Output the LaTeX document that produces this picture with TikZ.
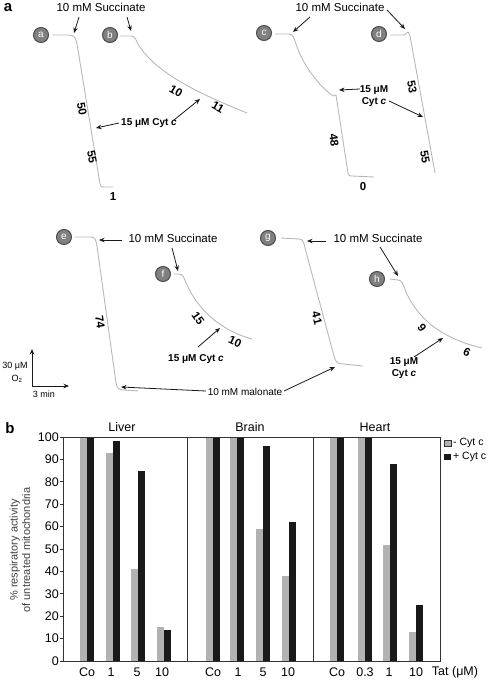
\documentclass[tikz,border=0pt]{standalone}
\usepackage{fontspec}
\setmainfont{Liberation Sans}
\usetikzlibrary{arrows.meta}
\begin{document}
\begin{tikzpicture}[x=1pt,y=-1pt,
  trace/.style={draw=black!28, line width=0.9pt, line join=round},
  arr/.style={-{Stealth[length=5.5pt,width=4.5pt]}, line width=0.8pt, draw=black!90},
  circ/.style={circle, fill=black!50, draw=black!70, line width=1pt, minimum size=15pt, inner sep=0pt, text=white, font=\fontsize{10}{10}\selectfont},
  lab/.style={font=\fontsize{11.5}{13}\selectfont, inner sep=0pt},
  num/.style={font=\bfseries\fontsize{11.5}{13}\selectfont, inner sep=0pt},
  cyt/.style={font=\bfseries\fontsize{10}{11.5}\selectfont, align=center, inner sep=0pt},
  panel/.style={font=\bfseries\fontsize{15}{15}\selectfont, inner sep=0pt},
  ctext/.style={font=\fontsize{12.5}{14}\selectfont, inner sep=0pt},
  gbar/.style={fill=black!30},
  bbar/.style={fill=black!90}
]
\useasboundingbox (0,0) rectangle (489,680);

% ---------- panel a ----------
\node[panel] (pa) at (8,8) {a};

% traces
\node[circ] (ca) at (41,35) {a};
\draw[trace] (52,35) -- (69,35) .. controls (74,35) and (76,38) .. (77,44) -- (100,184) .. controls (101,187) .. (104,187) -- (113,187);
\node[circ] (cb) at (110,35) {b};
\draw[trace] (120,36) -- (131,36) .. controls (135,36) and (136,40) .. (138,44) .. controls (155,72) and (195,92) .. (247,113);
\node[circ] (cc) at (264,33) {c};
\draw[trace] (275,34) -- (289,34) .. controls (293,34) and (294,38) .. (296,44) .. controls (303,65) and (318,85) .. (333,96) -- (336,95) -- (348,173) .. controls (349,176) .. (352,176) -- (374,177);
\node[circ] (cd) at (379,34) {d};
\draw[trace] (390,35) -- (404,35) -- (408,32) -- (410,36) -- (435,173);
\node[circ] (ce) at (64,237) {e};
\draw[trace] (75,237) -- (91,237) .. controls (95,237) and (96,240) .. (97,246) -- (116,383) .. controls (117,388) and (119,390) .. (124,390) -- (138,391);
\node[circ] (cf) at (163,274) {f};
\draw[trace] (174,274) -- (179,274) .. controls (183,274) and (184,278) .. (186,283) .. controls (198,310) and (220,330) .. (252,339);
\node[circ] (cg) at (268,238) {g};
\draw[trace] (281,238) -- (299,239) .. controls (303,239) and (304,243) .. (305,248) -- (334,356) .. controls (335,361) and (337,364) .. (343,364) -- (363,366);
\node[circ] (ch) at (377,279) {h};
\draw[trace] (390,279) -- (398,280) .. controls (402,280) and (403,284) .. (406,292) .. controls (418,318) and (440,338) .. (482,348);

% rate numbers
\node[num, rotate=-80] (n50) at (82,109) {50};
\node[num, rotate=-80] (n55a) at (92,157) {55};
\node[num] (n1) at (113,197) {1};
\node[num, rotate=-30] (n10b) at (176,91) {10};
\node[num, rotate=-30] (n11) at (218,107) {11};
\node[num, rotate=-83] (n48) at (334,140) {48};
\node[num] (n0) at (363,187) {0};
\node[num, rotate=-80] (n53) at (412,87) {53};
\node[num, rotate=-80] (n55d) at (425,157) {55};
\node[num, rotate=-81] (n74) at (100,322) {74};
\node[num, rotate=-55] (n15f) at (198,318) {15};
\node[num, rotate=-25] (n10f) at (235,342) {10};
\node[num, rotate=-75] (n41) at (317,318) {41};
\node[num, rotate=-55] (n9) at (422,328) {9};
\node[num, rotate=-25] (n6) at (467,352) {6};

% succinate labels
\node[lab] (s1) at (101,7) {10 mM Succinate};
\coordinate (s1a0) at (79,17); \coordinate (s1a1) at (74,33);
\coordinate (s1b0) at (127,17); \coordinate (s1b1) at (131,31);
\draw[arr] (s1a0) -- (s1a1);
\draw[arr] (s1b0) -- (s1b1);

\node[lab] (s2) at (340,7) {10 mM Succinate};
\coordinate (s2a0) at (310,17); \coordinate (s2a1) at (293,32);
\coordinate (s2b0) at (387,10); \coordinate (s2b1) at (405,29);
\draw[arr] (s2a0) -- (s2a1);
\draw[arr] (s2b0) -- (s2b1);

\node[lab] (s3) at (173,238) {10 mM Succinate};
\coordinate (s3a0) at (122,240); \coordinate (s3a1) at (99,240);
\coordinate (s3b0) at (172,248); \coordinate (s3b1) at (178,271);
\draw[arr] (s3a0) -- (s3a1);
\draw[arr] (s3b0) -- (s3b1);

\node[lab] (s4) at (378,238) {10 mM Succinate};
\coordinate (s4a0) at (326,241); \coordinate (s4a1) at (307,241);
\coordinate (s4b0) at (380,247); \coordinate (s4b1) at (398,276);
\draw[arr] (s4a0) -- (s4a1);
\draw[arr] (s4b0) -- (s4b1);

% cyt c labels
\node[cyt] (cy1) at (149,123) {15 μM Cyt \textit{c}};
\coordinate (cy1a0) at (119,123); \coordinate (cy1a1) at (96,128);
\coordinate (cy1b0) at (174,120); \coordinate (cy1b1) at (200,99);
\draw[arr] (cy1a0) -- (cy1a1);
\draw[arr] (cy1b0) -- (cy1b1);

\node[cyt] (cy2) at (374,96) {15 μM\\Cyt \textit{c}};
\coordinate (cy2a0) at (360,89); \coordinate (cy2a1) at (339,90);
\coordinate (cy2b0) at (389,101); \coordinate (cy2b1) at (423,117);
\draw[arr] (cy2a0) -- (cy2a1);
\draw[arr] (cy2b0) -- (cy2b1);

\node[cyt] (cy3) at (196,359) {15 μM Cyt \textit{c}};
\coordinate (cy3a0) at (198,347); \coordinate (cy3a1) at (220,328);
\draw[arr] (cy3a0) -- (cy3a1);

\node[cyt] (cy4) at (404,368) {15 μM\\Cyt \textit{c}};
\coordinate (cy4a0) at (414,357); \coordinate (cy4a1) at (443,338);
\draw[arr] (cy4a0) -- (cy4a1);

% malonate
\node[font=\fontsize{10}{11}\selectfont, inner sep=0pt] (mal) at (245,392) {10 mM malonate};
\coordinate (m0) at (206,391); \coordinate (m1) at (121,387);
\coordinate (m2) at (284,391); \coordinate (m3) at (335,367);
\draw[arr] (m0) -- (m1);
\draw[arr] (m2) -- (m3);

% scale bar
\coordinate (sc0) at (32,386); \coordinate (scv) at (32,349); \coordinate (sch) at (69,386);
\draw[arr] (sc0) -- (scv);
\draw[arr] (sc0) -- (sch);
\node[font=\fontsize{9}{10}\selectfont, inner sep=0pt] (sct) at (15,366) {30 μM};
\node[font=\fontsize{9}{10}\selectfont, inner sep=0pt] (sco) at (17,379) {O\textsubscript{2}};
\node[font=\fontsize{9}{10}\selectfont, inner sep=0pt] (scm) at (44,394) {3 min};

% ---------- panel b ----------
\node[panel] (pb) at (10,428) {b};

% bars
\foreach \x/\g/\b in {80/100/100, 106/93/98, 131/41/85, 157/15/14,
                      206/100/100, 230/100/100, 256/59/96, 282/38/62,
                      330/100/100, 358/100/100, 383/52/88, 409/13/25}{
  \fill[gbar] (\x,661) rectangle ({\x+7},{661-2.24*\g});
  \fill[bbar] ({\x+7},661) rectangle ({\x+14},{661-2.24*\b});
}

% frame
\draw[line width=0.8pt, black!80] (63,437) rectangle (440,661);
\draw[line width=0.8pt, black!80] (187,437) -- (187,661);
\draw[line width=0.8pt, black!80] (313,437) -- (313,661);
\foreach \v in {0,10,...,100}{
  \draw[line width=0.8pt, black!80] (60,{661-2.24*\v}) -- (63,{661-2.24*\v});
  \node[ctext, anchor=east] at (59,{661-2.24*\v}) {\v};
}

% group titles
\node[ctext] (tl) at (122,427) {Liver};
\node[ctext] (tb) at (250,427) {Brain};
\node[ctext] (th) at (375,427) {Heart};

% x labels
\foreach \x/\t in {87/Co, 111/1, 137/5, 162/10, 213/Co, 238/1, 263/5, 288/10,
                   337/Co, 365/0.3, 389/1, 416/10}{
  \node[ctext] at (\x,672) {\t};
}
\node[ctext] (tat) at (455,672) {Tat (μM)};

% y title
\node[font=\fontsize{11}{12.5}\selectfont, text=black!75, align=center, rotate=90, inner sep=0pt] (yt) at (20,550) {\% respiratory activity\\of untreated mitochondria};

% legend
\draw[fill=black!30, draw=black!80, line width=0.7pt] (444,440) rectangle (451,446);
\node[font=\fontsize{10.5}{12}\selectfont, anchor=west, inner sep=0pt] (lg1) at (453,443) {- Cyt c};
\fill[black!90] (444,454) rectangle (451,460);
\node[font=\fontsize{10.5}{12}\selectfont, anchor=west, inner sep=0pt] (lg2) at (453,457) {+ Cyt c};
\end{tikzpicture}
\end{document}
